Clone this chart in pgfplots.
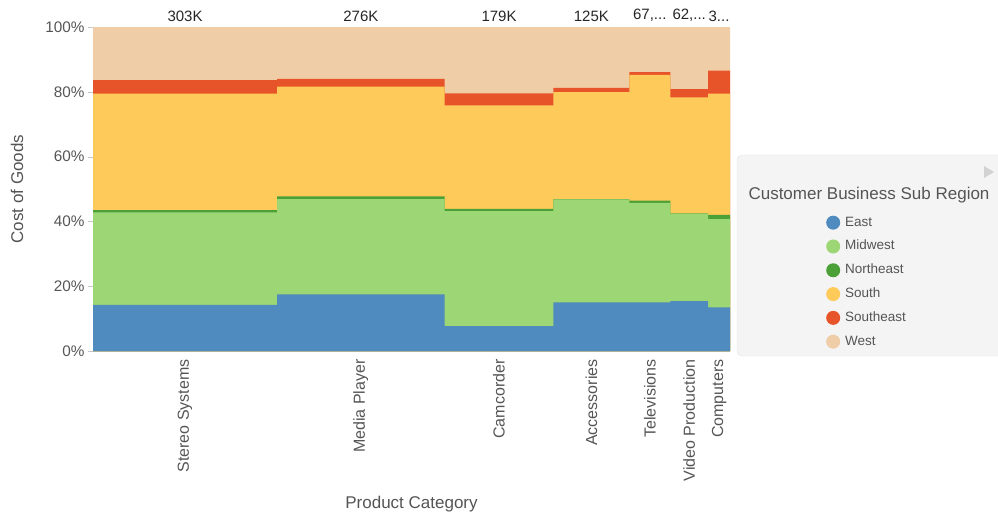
\documentclass[border=0pt]{standalone}
\usepackage{pgfplots}
\pgfplotsset{compat=1.18}
\usepackage{fontspec}
\setmainfont{Liberation Sans}
\definecolor{cEast}{RGB}{79,139,190}
\definecolor{cMid}{RGB}{157,214,116}
\definecolor{cNE}{RGB}{76,160,56}
\definecolor{cSouth}{RGB}{254,203,90}
\definecolor{cSE}{RGB}{232,84,42}
\definecolor{cWest}{RGB}{239,205,166}
\definecolor{txt}{RGB}{85,85,85}
\begin{document}
\begin{tikzpicture}
\useasboundingbox (0pt,0pt) rectangle (998pt,512pt);
\fill[fill=gray!9, draw=gray!22, rounded corners=5pt] (737pt,156pt) rectangle (1006pt,357pt);
\fill[gray!35] (984pt,346pt) -- (984pt,334pt) -- (994pt,340pt) -- cycle;
\node[text=txt, font=\fontsize{17}{19}\selectfont] at (869pt,317pt) {Customer Business Sub Region};
\begin{axis}[
  at={(93pt,161pt)}, anchor=south west, scale only axis,
  width=637pt, height=324pt,
  xmin=0, xmax=1048.8, ymin=0, ymax=100,
  axis x line*=bottom, axis y line*=left,
  axis line style={gray!45},
  ytick={0,20,40,60,80,100},
  yticklabels={0\%,20\%,40\%,60\%,80\%,100\%},
  yticklabel style={text=txt, font=\fontsize{15.3}{17}\selectfont},
  ytick style={gray!45}, tick align=outside, major tick length=5pt,
  xtick={151.5,441,668.5,820.5,916.75,981.65,1030.8},
  xticklabels={Stereo Systems,Media Player,Camcorder,Accessories,Televisions,Video Production,Computers},
  xticklabel style={rotate=90, anchor=east, text=txt, font=\fontsize{16}{18}\selectfont},
  xtick style={draw=none},
  xlabel={Product Category}, ylabel={Cost of Goods},
  xlabel style={at={(axis description cs:0.5,-0.474)}, anchor=center, text=txt, font=\fontsize{17}{19}\selectfont},
  ylabel style={at={(axis description cs:-0.1193,0.5)}, anchor=center, rotate=0, text=txt, font=\fontsize{17}{19}\selectfont},
  clip=false,
  legend cell align=left,
  legend image code/.code={\path[draw=none, fill=none] (0pt,0pt) -- (19pt,0pt); \fill[#1, draw=none] (7pt,0pt) circle (7pt);},
  legend style={at={(rel axis cs:1.146,0.4245)}, anchor=north west, draw=none, fill=none,
    font=\fontsize{13.5}{15}\selectfont, text=txt, row sep=9.8pt,
    nodes={inner sep=0pt, text height=10pt, text depth=3pt}},
]
% cumulative tops, constant across each column (x = cumulative cost in K)
\addplot[const plot, fill=cWest, draw=none, forget plot] coordinates {(0,100) (303,100) (579,100) (758,100) (883,100) (950.5,100) (1012.8,100) (1048.8,100)} \closedcycle;
\addplot[const plot, fill=cSE, draw=none, forget plot] coordinates {(0,83.6) (303,84.0) (579,79.5) (758,81.2) (883,86.1) (950.5,80.8) (1012.8,86.5) (1048.8,86.5)} \closedcycle;
\addplot[const plot, fill=cSouth, draw=none, forget plot] coordinates {(0,79.4) (303,81.6) (579,75.8) (758,79.9) (883,85.2) (950.5,78.3) (1012.8,79.4) (1048.8,79.4)} \closedcycle;
\addplot[const plot, fill=cNE, draw=none, forget plot] coordinates {(0,43.5) (303,47.7) (579,43.9) (758,46.9) (883,46.4) (950.5,42.5) (1012.8,42.0) (1048.8,42.0)} \closedcycle;
\addplot[const plot, fill=cMid, draw=none, forget plot] coordinates {(0,42.8) (303,46.9) (579,43.2) (758,46.8) (883,45.7) (950.5,42.4) (1012.8,40.7) (1048.8,40.7)} \closedcycle;
\addplot[const plot, fill=cEast, draw=none, forget plot] coordinates {(0,14.2) (303,17.5) (579,7.7) (758,15.0) (883,15.0) (950.5,15.4) (1012.8,13.5) (1048.8,13.5)} \closedcycle;
\addlegendimage{fill=cEast, draw=none}\addlegendentry{East}
\addlegendimage{fill=cMid, draw=none}\addlegendentry{Midwest}
\addlegendimage{fill=cNE, draw=none}\addlegendentry{Northeast}
\addlegendimage{fill=cSouth, draw=none}\addlegendentry{South}
\addlegendimage{fill=cSE, draw=none}\addlegendentry{Southeast}
\addlegendimage{fill=cWest, draw=none}\addlegendentry{West}
\begin{scope}[every node/.style={anchor=south, font=\fontsize{15}{17}\selectfont, text=black!85, yshift=2pt}]
\node at (axis cs:151.5,100) {303K};
\node at (axis cs:441,100) {276K};
\node at (axis cs:668.5,100) {179K};
\node at (axis cs:820.5,100) {125K};
\node at (axis cs:916.75,100) {67,...};
\node at (axis cs:981.65,100) {62,...};
\node at (axis cs:1030.8,100) {3...};
\end{scope}
\end{axis}
\end{tikzpicture}
\end{document}
